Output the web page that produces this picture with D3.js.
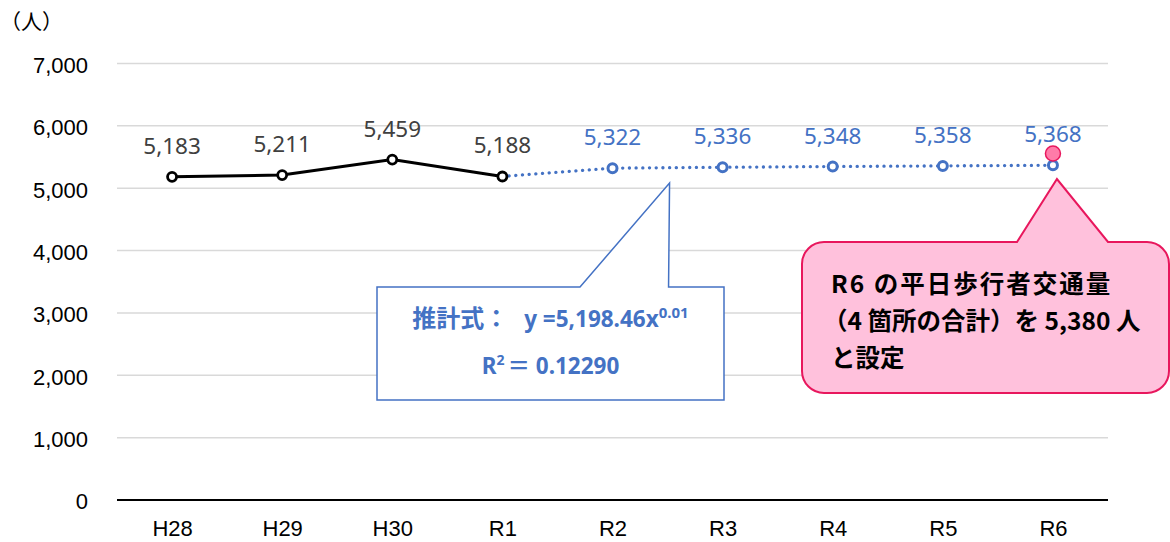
<!DOCTYPE html>
<html><head><meta charset="utf-8">
<script src="https://cdn.jsdelivr.net/npm/d3@7"></script>
<style>
html,body{margin:0;padding:0;background:#fff;}
svg{display:block;}
</style>
</head><body>
<svg id="chart" width="1170" height="542"></svg>
<script>
// ---- data ----
const categories = ["H28","H29","H30","R1","R2","R3","R4","R5","R6"];
const actualCats = ["H28","H29","H30","R1"];
const actualValues = [5183, 5211, 5459, 5188];
const forecastCats = ["R2","R3","R4","R5","R6"];
const forecastValues = [5322, 5336, 5348, 5358, 5368];
const yTicks = [0,1000,2000,3000,4000,5000,6000,7000];
const targetCat = "R6";
const targetValue = 5380;
const unitLabel = "（人）";
const formulaLabel = ["推計式：", " y =5,198.46x", "0.01"];
const r2Label = ["R", "2", "＝", " 0.12290"];
const noteLines = ["R6 の平日歩行者交通量", "（4 箇所の合計）を 5,380 人", "と設定"];

// ---- chart ----
(function(){
const svg = d3.select("#chart");
const mLeft = 117, mRight = 1108, mTop = 63.5, mBottom = 500;

const x = d3.scalePoint().domain(categories).range([mLeft, mRight]).padding(0.5);
const y = d3.scaleLinear().domain([0, 7000]).range([mBottom, mTop]);

const BLUE = "#4472C4";

// gridlines
svg.append("g").selectAll("line").data(yTicks.filter(d => d > 0)).join("line")
  .attr("x1", mLeft).attr("x2", mRight)
  .attr("y1", d => y(d)).attr("y2", d => y(d))
  .attr("stroke", "#D9D9D9").attr("stroke-width", 1.5);

// y axis
const yAxis = d3.axisLeft(y).tickValues(yTicks).tickFormat(d3.format(",")).tickSize(0).tickPadding(29);
const gy = svg.append("g").attr("transform", `translate(${mLeft},0)`).call(yAxis);
gy.select(".domain").remove();
gy.selectAll("text").attr("font-family", "'Liberation Sans', Arial, sans-serif")
  .attr("font-size", 22).attr("fill", "#000").attr("dy", "0.4em");

// x axis
const xAxis = d3.axisBottom(x).tickSize(0).tickPadding(20);
const gx = svg.append("g").attr("transform", `translate(0,${mBottom})`).call(xAxis);
gx.select(".domain").attr("stroke", "#000").attr("stroke-width", 2.2)
  .attr("d", `M${mLeft},0H${mRight}`);
gx.selectAll("text").attr("font-family", "'Liberation Sans', Arial, sans-serif")
  .attr("font-size", 22).attr("fill", "#000").attr("dy", "0.71em");

// unit label
svg.append("text").attr("x", 0).attr("y", 29)
  .attr("font-family", "'Noto Sans CJK JP', sans-serif").attr("font-size", 21)
  .attr("fill", "#000").text(unitLabel);

// forecast dotted line (from last actual point)
const lastActual = {c: actualCats[actualCats.length-1], v: actualValues[actualValues.length-1]};
const forecastPts = [lastActual].concat(forecastCats.map((c,i)=>({c, v: forecastValues[i]})));
const line = d3.line().x(d => x(d.c)).y(d => y(d.v));
svg.append("path").datum(forecastPts).attr("d", line)
  .attr("fill", "none").attr("stroke", BLUE).attr("stroke-width", 3.3)
  .attr("stroke-linecap", "round").attr("stroke-dasharray", "0.1,6.6");

// actual line
const actualPts = actualCats.map((c,i)=>({c, v: actualValues[i]}));
svg.append("path").datum(actualPts).attr("d", line)
  .attr("fill", "none").attr("stroke", "#000").attr("stroke-width", 3);

// forecast markers
svg.append("g").selectAll("circle").data(forecastPts.slice(1)).join("circle")
  .attr("cx", d => x(d.c)).attr("cy", d => y(d.v)).attr("r", 4.5)
  .attr("fill", "#fff").attr("stroke", BLUE).attr("stroke-width", 3);
// actual markers
svg.append("g").selectAll("circle").data(actualPts).join("circle")
  .attr("cx", d => x(d.c)).attr("cy", d => y(d.v)).attr("r", 4.5)
  .attr("fill", "#fff").attr("stroke", "#000").attr("stroke-width", 2.8);

// data labels
const fmt = d3.format(",");
svg.append("g").selectAll("text").data(actualPts).join("text")
  .attr("x", d => x(d.c)).attr("y", d => y(d.v) - 23)
  .attr("text-anchor", "middle").attr("font-family", "'Noto Sans', sans-serif")
  .attr("font-size", 22.5).attr("fill", "#404040").text(d => fmt(d.v));
svg.append("g").selectAll("text").data(forecastPts.slice(1)).join("text")
  .attr("x", d => x(d.c)).attr("y", d => y(d.v) - 23)
  .attr("text-anchor", "middle").attr("font-family", "'Noto Sans', sans-serif")
  .attr("font-size", 22.5).attr("fill", BLUE).text(d => fmt(d.v));

// target marker (pink)
svg.append("circle").attr("cx", x(targetCat)).attr("cy", y(targetValue) - 11).attr("r", 7.5)
  .attr("fill", "#FF7BA9").attr("stroke", "#E8175D").attr("stroke-width", 1.5);

// ---- blue callout ----
{
  const bx0 = 377, bx1 = 724, by0 = 287, by1 = 400;
  const tipX = (x("R2") + x("R3")) / 2 + 2, tipY = 183;
  const p = `M${bx0},${by0}H580L${tipX},${tipY}L${tipX-1},${by0}H${bx1}V${by1}H${bx0}Z`;
  svg.append("path").attr("d", p).attr("fill", "#fff").attr("stroke", BLUE).attr("stroke-width", 1.5);
  const cx = (bx0 + bx1) / 2;
  const t1 = svg.append("text").attr("x", cx).attr("y", 327).attr("text-anchor", "middle")
    .attr("font-weight", "bold").attr("fill", BLUE);
  t1.append("tspan").attr("font-family", "'Noto Sans CJK JP', sans-serif").attr("font-size", 24).text(formulaLabel[0]);
  t1.append("tspan").attr("font-family", "'Noto Sans', sans-serif").attr("font-size", 22.5).attr("dx", 10).text(formulaLabel[1]);
  t1.append("tspan").attr("font-family", "'Noto Sans', sans-serif").attr("font-size", 15).attr("dy", -9).text(formulaLabel[2]);
  const t2 = svg.append("text").attr("x", cx).attr("y", 374).attr("text-anchor", "middle")
    .attr("font-weight", "bold").attr("fill", BLUE);
  t2.append("tspan").attr("font-family", "'Noto Sans', sans-serif").attr("font-size", 22.5).text(r2Label[0]);
  t2.append("tspan").attr("font-family", "'Noto Sans', sans-serif").attr("font-size", 14).attr("dy", -9).text(r2Label[1]);
  t2.append("tspan").attr("font-family", "'Noto Sans CJK JP', sans-serif").attr("font-size", 22.5).attr("dy", 9).attr("dx", 3).text(r2Label[2]);
  t2.append("tspan").attr("font-family", "'Noto Sans', sans-serif").attr("font-size", 22.5).text(r2Label[3]);
}

// ---- pink callout ----
{
  const px0 = 802, px1 = 1169, py0 = 242, py1 = 393, rr = 22;
  const tipX = x(targetCat) + 4, tipY = 179;
  const p = `M${px0+rr},${py0}H1017L${tipX},${tipY}L1108,${py0}H${px1-rr}` +
    `A${rr},${rr} 0 0 1 ${px1},${py0+rr}V${py1-rr}A${rr},${rr} 0 0 1 ${px1-rr},${py1}` +
    `H${px0+rr}A${rr},${rr} 0 0 1 ${px0},${py1-rr}V${py0+rr}A${rr},${rr} 0 0 1 ${px0+rr},${py0}Z`;
  svg.append("path").attr("d", p).attr("fill", "#FFC1DC").attr("stroke", "#E8175D").attr("stroke-width", 2);
  svg.append("g").selectAll("text").data(noteLines).join("text")
    .attr("x", (d,i) => i === 1 ? 823 : 831).attr("y", (d,i) => 293 + i * 37)
    .attr("font-family", "'Noto Sans CJK JP', sans-serif").attr("font-weight", "bold")
    .attr("letter-spacing", (d,i) => i === 0 ? 2 : 0)
    .attr("font-size", 24.5).attr("fill", "#000").text(d => d);
}
})();
</script>
</body></html>
